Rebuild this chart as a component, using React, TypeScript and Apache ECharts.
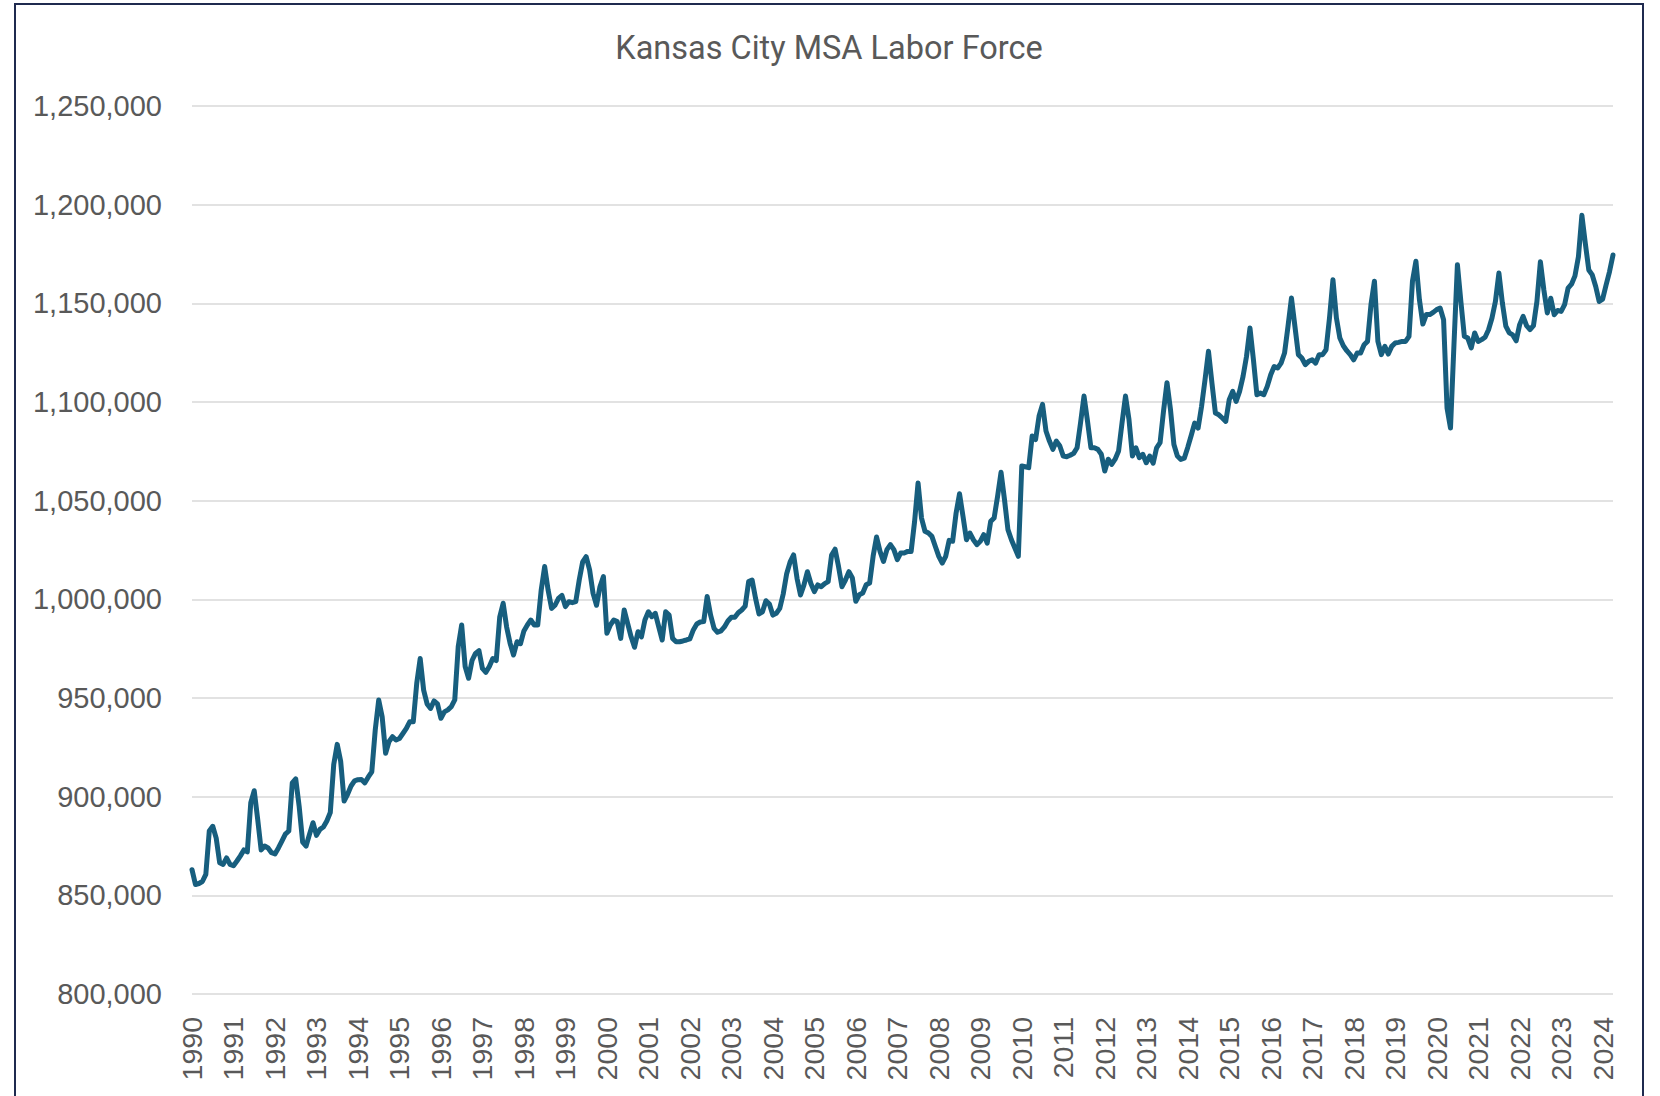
import React, { useEffect, useRef } from "react";
import * as echarts from "echarts";

const chartTitle = "Kansas City MSA Labor Force";
const startYear = 1990;
const yearLabels = [
  "1990","1991","1992","1993","1994","1995","1996","1997","1998","1999",
  "2000","2001","2002","2003","2004","2005","2006","2007","2008","2009",
  "2010","2011","2012","2013","2014","2015","2016","2017","2018","2019",
  "2020","2021","2022","2023","2024",
];
const yTicks = { min: 800000, max: 1250000, interval: 50000 };

// Monthly labor force, Jan..Dec of each year
const y1990 = [863000, 855500, 856000, 857000, 860600, 882600, 885000, 879000, 866500, 865700, 869000, 865700];
const y1991 = [865000, 867400, 870000, 873000, 872000, 897000, 903000, 888500, 873000, 875000, 874000, 871600];
const y1992 = [871000, 874000, 877500, 881000, 882600, 907000, 909000, 895000, 877000, 875000, 881000, 886800];
const y1993 = [880400, 883400, 884600, 887700, 892000, 916400, 926500, 918000, 897800, 901200, 905400, 908000];
const y1994 = [908600, 908700, 907000, 910000, 912600, 933800, 949000, 940500, 922000, 928000, 930400, 928700];
const y1995 = [929500, 932000, 934600, 938000, 938000, 957400, 970000, 954000, 947000, 944700, 948500, 947000];
const y1996 = [939700, 943000, 944000, 945600, 949000, 976000, 987000, 966000, 960000, 969000, 972600, 974000];
const y1997 = [965000, 963000, 966000, 970000, 969000, 991000, 998000, 986000, 977700, 971800, 978500, 977500];
const y1998 = [984000, 987000, 989500, 987000, 987000, 1004700, 1016600, 1004700, 995400, 997000, 1000500, 1002000];
const y1999 = [996300, 998800, 998300, 998800, 1009800, 1019000, 1021600, 1014900, 1003000, 997000, 1006400, 1011500];
const y2000 = [982800, 987000, 989500, 988700, 980200, 994600, 987800, 981000, 975700, 983600, 981000, 989500];
const y2001 = [993700, 991200, 992900, 986000, 979400, 993700, 992000, 980200, 978500, 978500, 978900, 979400];
const y2002 = [980000, 984500, 987500, 988500, 988700, 1001400, 992000, 985300, 983300, 984000, 986000, 989000];
const y2003 = [990900, 990900, 993200, 994600, 996600, 1009000, 1009800, 1000500, 992600, 993700, 999300, 997600];
const y2004 = [992000, 992900, 995400, 1002700, 1013000, 1019000, 1022500, 1010600, 1002200, 1007300, 1014000, 1008000];
const y2005 = [1003900, 1007300, 1006400, 1008000, 1009000, 1022500, 1025400, 1016600, 1006400, 1009800, 1014000, 1010800];
const y2006 = [999000, 1002300, 1003200, 1007400, 1008300, 1021800, 1031600, 1024300, 1019200, 1025200, 1027700, 1025200];
const y2007 = [1020100, 1023500, 1023500, 1024300, 1024300, 1039500, 1059000, 1041200, 1034500, 1033600, 1031900, 1026800];
const y2008 = [1021800, 1018400, 1021800, 1029900, 1029400, 1043700, 1053500, 1042000, 1030200, 1033600, 1030200, 1027700];
const y2009 = [1029400, 1032800, 1028500, 1039500, 1041200, 1052200, 1064400, 1050500, 1035300, 1030200, 1026000, 1021800];
const y2010 = [1067600, 1067200, 1066700, 1082800, 1081000, 1092900, 1098800, 1085300, 1080200, 1076000, 1080200, 1077700];
const y2011 = [1072600, 1072300, 1073000, 1074000, 1076800, 1089500, 1103000, 1090400, 1076800, 1076800, 1076000, 1073500];
const y2012 = [1065000, 1071000, 1068400, 1071000, 1075200, 1089500, 1103000, 1091200, 1072600, 1076800, 1071800, 1073500];
const y2013 = [1069200, 1072600, 1069000, 1076800, 1079400, 1095400, 1109800, 1096300, 1078500, 1072600, 1070900, 1071500];
const y2014 = [1077000, 1083000, 1089300, 1086800, 1097800, 1111300, 1125700, 1109600, 1094400, 1093500, 1091900, 1090200];
const y2015 = [1101200, 1105400, 1100300, 1105400, 1113000, 1123100, 1137500, 1121400, 1103700, 1104500, 1103700, 1107900];
const y2016 = [1113800, 1118000, 1117200, 1119700, 1124800, 1138300, 1152700, 1138300, 1124000, 1122300, 1118900, 1120600];
const y2017 = [1121400, 1119700, 1124000, 1124000, 1126500, 1142600, 1162000, 1142600, 1132400, 1128500, 1126000, 1124000];
const y2018 = [1121400, 1124800, 1124800, 1129000, 1130700, 1149300, 1161200, 1130700, 1124000, 1128200, 1124300, 1128200];
const y2019 = [1129900, 1130200, 1130700, 1130700, 1133300, 1161200, 1171300, 1152000, 1139500, 1144300, 1144300, 1145400];
const y2020 = [1146800, 1147600, 1141700, 1096900, 1086800, 1129000, 1169600, 1151000, 1133300, 1132400, 1127400, 1135000];
const y2021 = [1130700, 1131600, 1132800, 1136600, 1142600, 1151000, 1165400, 1150200, 1138500, 1135000, 1134000, 1131000];
const y2022 = [1139200, 1143400, 1138700, 1136700, 1138700, 1151000, 1171100, 1156800, 1145100, 1152600, 1144200, 1146400];
const y2023 = [1145900, 1149300, 1157700, 1159700, 1163900, 1173600, 1194600, 1180300, 1166900, 1164400, 1158500, 1150900];
const y2024 = [1152100, 1159300, 1166100, 1174500];

const laborForce: number[] = [
  ...y1990, ...y1991, ...y1992, ...y1993, ...y1994, ...y1995, ...y1996, ...y1997,
  ...y1998, ...y1999, ...y2000, ...y2001, ...y2002, ...y2003, ...y2004, ...y2005,
  ...y2006, ...y2007, ...y2008, ...y2009, ...y2010, ...y2011, ...y2012, ...y2013,
  ...y2014, ...y2015, ...y2016, ...y2017, ...y2018, ...y2019, ...y2020, ...y2021,
  ...y2022, ...y2023, ...y2024,
];

const months = laborForce.map(
  (_, i) => `${startYear + Math.floor(i / 12)}-${String((i % 12) + 1).padStart(2, "0")}`
);

const TEXT = "#595959";
const GRID = "#d9d9d9";
const LINE = "#175E7E";

export default function App() {
  const ref = useRef<HTMLDivElement>(null);
  useEffect(() => {
    const chart = echarts.init(ref.current!, null, { renderer: "svg" });
    chart.setOption({
      animation: false,
      backgroundColor: "#ffffff",
      grid: { left: 192, right: 47, top: 106, bottom: 102, containLabel: false },
      graphic: [
        {
          type: "rect",
          shape: { x: 15, y: 4, width: 1628, height: 1200 },
          style: { fill: "none", stroke: "#1f2a4f", lineWidth: 2 },
          silent: true,
        },
        {
          type: "text",
          x: 829,
          y: 48,
          style: {
            text: chartTitle,
            fill: TEXT,
            fontSize: 32.5,
            fontFamily: "Roboto",
            align: "center",
            verticalAlign: "middle",
          },
        },
      ],
      xAxis: {
        type: "category",
        data: months,
        boundaryGap: false,
        axisLine: { show: false },
        axisTick: { show: false },
        splitLine: { show: false },
        axisLabel: {
          interval: 11,
          rotate: 90,
          margin: 23,
          color: TEXT,
          fontSize: 28.5,
          fontFamily: "Liberation Sans",
          formatter: (_v: string, idx: number) => yearLabels[Math.floor(idx / 12)],
        },
      },
      yAxis: {
        type: "value",
        min: yTicks.min,
        max: yTicks.max,
        interval: yTicks.interval,
        axisLine: { show: false },
        axisTick: { show: false },
        splitLine: { show: true, lineStyle: { color: GRID, width: 1.5 } },
        axisLabel: {
          margin: 30,
          color: TEXT,
          fontSize: 29,
          fontFamily: "Liberation Sans",
          formatter: (v: number) => v.toLocaleString("en-US"),
        },
      },
      series: [
        {
          type: "line",
          data: laborForce,
          showSymbol: false,
          smooth: false,
          lineStyle: { color: LINE, width: 5, join: "round", cap: "round" },
          itemStyle: { color: LINE },
        },
      ],
    });
    return () => chart.dispose();
  }, []);
  return (
    <div
      ref={ref}
      style={{ position: "absolute", left: 0, top: 0, width: 1660, height: 1096, background: "#fff" }}
    />
  );
}
